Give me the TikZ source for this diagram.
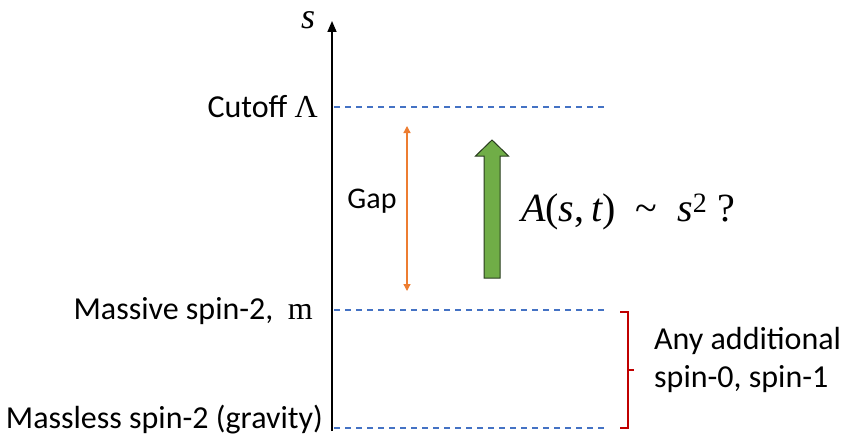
\documentclass[tikz,border=0pt]{standalone}
\usepackage{fontspec}
\setmainfont{Carlito}
\newfontfamily\mathserif{Liberation Serif}
\usetikzlibrary{arrows.meta}
\definecolor{lineblue}{RGB}{68,114,196}
\definecolor{gaporange}{RGB}{237,125,49}
\definecolor{arrowgreen}{RGB}{112,173,71}
\definecolor{arrowedge}{RGB}{40,60,30}
\definecolor{bracketred}{RGB}{192,0,0}
\tikzset{
  level/.style={draw=lineblue, line width=1.2pt, dash pattern=on 6pt off 5pt},
  lab/.style={font=\fontsize{32}{38}\selectfont, inner sep=0pt},
}
\begin{document}
\begin{tikzpicture}[x=1pt,y=-1pt]
\useasboundingbox (0,0) rectangle (842,436);
% axis
\coordinate (axbot) at (332,431);
\coordinate (axtop) at (332,21);
\draw[line width=1.6pt, -{Triangle[length=11pt,width=9pt]}] (axbot) -- (axtop);
\node[lab, font=\fontsize{36}{38}\selectfont\mathserif\itshape] (s) at (308,20) {s};
% levels
\coordinate (c1) at (334,107); \coordinate (c2) at (604,107);
\coordinate (m1) at (334,310); \coordinate (m2) at (604,310);
\coordinate (g1) at (334,428); \coordinate (g2) at (604,428);
\draw[level] (c1) -- (c2);
\draw[level] (m1) -- (m2);
\draw[level] (g1) -- (g2);
\node[lab, anchor=east] (cut) at (318,107) {Cutoff {\mathserif Λ}};
\node[lab, anchor=east] (mas) at (313,311) {Massive spin-2,\ \ {\mathserif m}};
\node[lab, anchor=east] (ml) at (323,420) {Massless spin-2 (gravity)};
% gap
\coordinate (gt) at (407,126);
\coordinate (gb) at (407,291);
\draw[gaporange, line width=1.3pt, {Triangle[length=7pt,width=7pt]}-{Triangle[length=7pt,width=7pt]}] (gb) -- (gt);
\node[lab, font=\fontsize{30}{32}\selectfont] (gap) at (372,201) {Gap};
% green arrow
\draw[fill=arrowgreen, draw=arrowedge, line width=1pt]
  (484,278) -- (500,278) -- (500,156) -- (508.5,156) -- (492,140) -- (475.5,156) -- (484,156) -- cycle;
\node[lab, anchor=west, font=\fontsize{40}{42}\selectfont\mathserif] (amp) at (521,212) {\itshape A\upshape(\itshape s\upshape,\,\itshape t\upshape)\ \ \textasciitilde\ \ \itshape s\upshape\textsuperscript{2}\ ?};
% bracket
\draw[bracketred, line width=1.5pt] (620,312) -- (628,312) -- (628,428) -- (620,428);
\draw[bracketred, line width=1.5pt] (628,370) -- (634,370);
\node[lab, anchor=west, align=left] (any) at (654,360) {Any additional\\spin-0, spin-1};
\end{tikzpicture}
\end{document}
